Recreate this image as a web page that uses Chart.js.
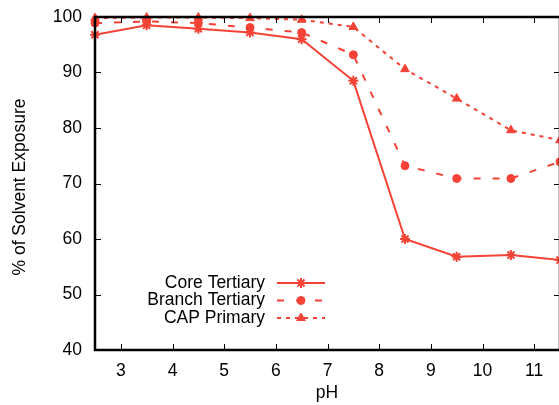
<!DOCTYPE html>
<html>
<head>
<meta charset="utf-8">
<script src="https://cdn.jsdelivr.net/npm/chart.js@4"></script>
<style>
  html, body { margin: 0; padding: 0; background: #fff; overflow: hidden; }
  #wrap { width: 559px; height: 405px; overflow: hidden; }
</style>
</head>
<body>
<div id="wrap"><canvas id="myChart" width="567" height="405" style="width:567px;height:405px"></canvas></div>
<script>
// valores
var ph = [2.5, 3.5, 4.5, 5.5, 6.5, 7.5, 8.5, 9.5, 10.55, 11.5];
var coreTertiary = [96.8, 98.5, 97.9, 97.2, 96.0, 88.5, 60.0, 56.8, 57.1, 56.2];
var branchTertiary = [98.9, 99.2, 98.9, 98.1, 97.2, 93.2, 73.2, 70.9, 70.9, 73.9];
var capPrimary = [99.8, 99.9, 99.9, 99.8, 99.5, 98.2, 90.6, 85.3, 79.6, 77.8];
var xTicks = [3, 4, 5, 6, 7, 8, 9, 10, 11];
var yTicks = [40, 50, 60, 70, 80, 90, 100];

var vermelho = 'rgb(244,67,54)';
var familia = '"Liberation Sans", Arial, sans-serif';
var fonte = '17.5px ' + familia;

function pontos(valores) {
  return ph.map(function (p, i) { return { x: p, y: valores[i] }; });
}

// moldura, ticks internos, titulos dos eixos e legenda no estilo gnuplot
var estiloGnuplot = {
  id: 'estiloGnuplot',
  afterDraw: function (chart) {
    var ctx = chart.ctx;
    var a = chart.chartArea;
    var xs = chart.scales.x;
    var ys = chart.scales.y;
    ctx.save();

    ctx.strokeStyle = '#000';
    ctx.lineWidth = 1;
    xTicks.forEach(function (v) {
      var px = Math.round(xs.getPixelForValue(v)) + 0.5;
      ctx.beginPath();
      ctx.moveTo(px, a.bottom); ctx.lineTo(px, a.bottom - 6);
      ctx.moveTo(px, a.top); ctx.lineTo(px, a.top + 6);
      ctx.stroke();
    });
    yTicks.forEach(function (v) {
      var py = Math.round(ys.getPixelForValue(v)) + 0.5;
      ctx.beginPath();
      ctx.moveTo(a.left, py); ctx.lineTo(a.left + 6, py);
      ctx.moveTo(a.right, py); ctx.lineTo(a.right - 6, py);
      ctx.stroke();
    });

    ctx.lineWidth = 2.5;
    ctx.strokeRect(a.left, a.top, a.right - a.left, a.bottom - a.top);

    ctx.fillStyle = '#000';
    ctx.font = fonte;
    ctx.textAlign = 'center';
    ctx.textBaseline = 'middle';
    ctx.fillText('pH', 327, 393);
    ctx.save();
    ctx.translate(20, 187);
    ctx.rotate(-Math.PI / 2);
    ctx.fillText('% of Solvent Exposure', 0, 0);
    ctx.restore();

    // legenda
    var textoX = 265, linhaX0 = 277, linhaX1 = 325, y0 = 283, passo = 17.5;
    chart.data.datasets.forEach(function (ds, i) {
      var y = y0 + i * passo;
      ctx.fillStyle = '#000';
      ctx.textAlign = 'right';
      ctx.fillText(ds.label, textoX, y);
      ctx.strokeStyle = ds.borderColor;
      ctx.lineWidth = ds.borderWidth;
      ctx.setLineDash(ds.borderDash || []);
      ctx.beginPath();
      ctx.moveTo(linhaX0, y); ctx.lineTo(linhaX1, y);
      ctx.stroke();
      ctx.setLineDash([]);
      ctx.fillStyle = ds.pointBackgroundColor;
      ctx.strokeStyle = ds.pointBorderColor;
      ctx.lineWidth = ds.pointBorderWidth;
      Chart.helpers.drawPoint(ctx, { pointStyle: ds.pointStyle, radius: ds.pointRadius, borderWidth: ds.pointBorderWidth }, (linhaX0 + linhaX1) / 2, y);
    });
    ctx.restore();
  }
};

var config = {
  type: 'line',
  data: {
    datasets: [{
      label: 'Core Tertiary',
      data: pontos(coreTertiary),
      borderColor: vermelho,
      borderWidth: 2,
      pointStyle: 'star',
      pointRadius: 5,
      pointBorderWidth: 2,
      pointBorderColor: vermelho,
      pointBackgroundColor: vermelho,
      tension: 0
    }, {
      label: 'Branch Tertiary',
      data: pontos(branchTertiary),
      borderColor: vermelho,
      borderWidth: 2,
      borderDash: [7, 12],
      pointStyle: 'circle',
      pointRadius: 4,
      pointBorderWidth: 1,
      pointBorderColor: vermelho,
      pointBackgroundColor: vermelho,
      tension: 0
    }, {
      label: 'CAP Primary',
      data: pontos(capPrimary),
      borderColor: vermelho,
      borderWidth: 2,
      borderDash: [4, 5],
      pointStyle: 'triangle',
      pointRadius: 5,
      pointBorderWidth: 1,
      pointBorderColor: vermelho,
      pointBackgroundColor: vermelho,
      tension: 0
    }]
  },
  options: {
    responsive: false,
    animation: false,
    clip: false,
    layout: { padding: { left: 0, top: 17, right: 2, bottom: 0 } },
    plugins: { legend: { display: false }, tooltip: { enabled: false } },
    scales: {
      x: {
        type: 'linear',
        min: 2.5,
        max: 11.5,
        grid: { display: false },
        border: { display: false },
        afterBuildTicks: function (scale) {
          scale.ticks = xTicks.map(function (v) { return { value: v }; });
        },
        afterFit: function (scale) {
          scale.height = 55;
          scale.paddingLeft = 0;
          scale.paddingRight = 0;
        },
        ticks: { color: '#000', font: { family: familia, size: 17.5 }, padding: 3, maxRotation: 0, autoSkip: false }
      },
      y: {
        min: 40,
        max: 100,
        grid: { display: false },
        border: { display: false },
        afterBuildTicks: function (scale) {
          scale.ticks = yTicks.map(function (v) { return { value: v }; });
        },
        afterFit: function (scale) {
          scale.width = 95;
          scale.paddingTop = 0;
          scale.paddingBottom = 0;
        },
        ticks: { color: '#000', font: { family: familia, size: 17.5 }, padding: 5 }
      }
    }
  },
  plugins: [estiloGnuplot]
};

var myChart = new Chart(document.getElementById('myChart').getContext('2d'), config);
</script>
</body>
</html>
